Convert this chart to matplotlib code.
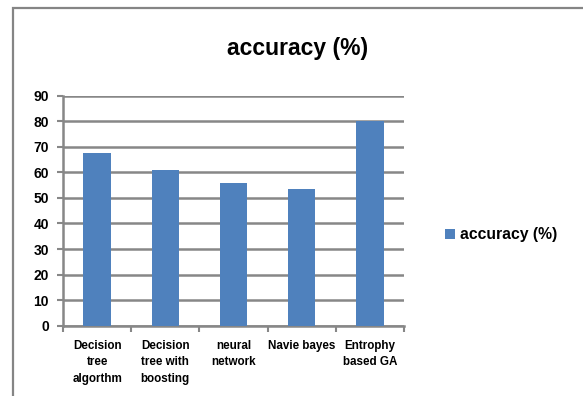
import numpy as np
import matplotlib.pyplot as plt
from matplotlib.patches import Rectangle

# valeurs
methodes = ["Decision\ntree\nalgorthm", "Decision\ntree with\nboosting",
            "neural\nnetwork", "Navie bayes", "Entrophy\nbased GA"]
precision = [67.5, 61, 56, 53.5, 80]
graduations = list(range(0, 100, 10))

plt.rcParams['font.family'] = ['Liberation Sans', 'DejaVu Sans']
plt.rcParams['font.weight'] = 'bold'

fig = plt.figure(figsize=(5.83, 3.96), dpi=100)
fig.patch.set_facecolor('white')

# cadre gris autour du graphique (haut et gauche seulement visibles)
fig.add_artist(Rectangle((13 / 583, -0.1), 1.0, 1 - 8 / 396 + 0.1,
                         transform=fig.transFigure, fill=False,
                         edgecolor='#858585', lw=1.6))

ax = fig.add_axes([63 / 583, 1 - 325.7 / 396, 341 / 583, 230 / 396])
x = np.arange(len(methodes))
ax.bar(x, precision, width=0.4, color='#4f81bd', zorder=3,
       label='accuracy (%)')

ax.set_xlim(-0.5, len(methodes) - 0.5)
ax.set_ylim(0, 90)
ax.set_yticks(graduations)
ax.set_yticklabels([str(g) for g in graduations], fontsize=10, fontweight='bold')
ax.yaxis.grid(True, color='#878787', lw=1.8, zorder=0)
ax.set_axisbelow(True)

ax.set_xticks(x)
ax.set_xticklabels(methodes, fontsize=8.4, fontweight='bold', linespacing=1.5)
ax.tick_params(axis='x', length=0, pad=10)
# petits traits entre les categories
ax.set_xticks(np.arange(-0.5, len(methodes)), minor=True)
ax.tick_params(axis='x', which='minor', length=4, color='#878787', width=1.5)
ax.tick_params(axis='y', length=4, color='#878787', width=1.5, pad=6)

for s in ['top', 'right']:
    ax.spines[s].set_visible(False)
for s in ['left', 'bottom']:
    ax.spines[s].set_color('#878787')
    ax.spines[s].set_linewidth(1.8)

fig.text(298 / 583, 1 - 49 / 396, 'accuracy (%)', ha='center', va='center',
         fontsize=16.5, fontweight='bold')

ax.legend(loc='center left', bbox_to_anchor=(431 / 583, 1 - 235 / 396),
          bbox_transform=fig.transFigure, frameon=False,
          prop={'size': 11.3, 'weight': 'bold'}, handlelength=0.65,
          handleheight=0.65, handletextpad=0.3)

fig.savefig('out.png', dpi=100)
